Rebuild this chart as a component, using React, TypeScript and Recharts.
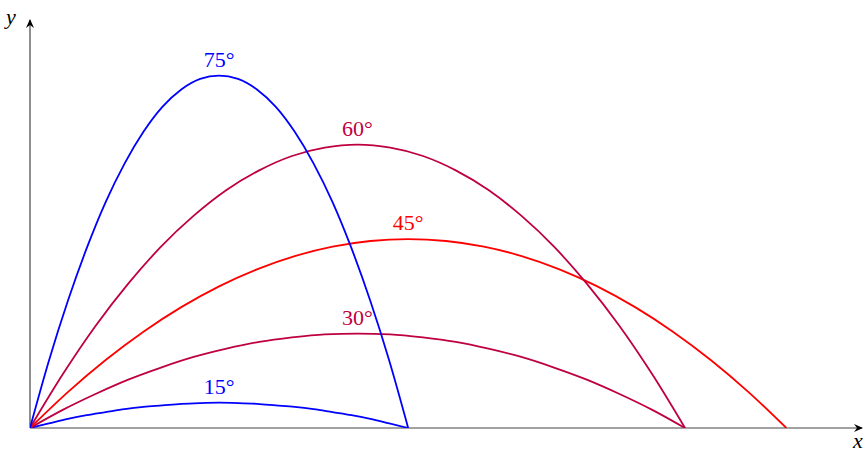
import React from 'react';
import { LineChart, Line, XAxis, YAxis, ReferenceDot, ReferenceLine } from 'recharts';

const x15 = [0, 0.25, 0.5, 0.75, 1, 1.25, 1.5, 1.75, 2, 2.25, 2.5, 2.75, 3, 3.25, 3.5, 3.75, 4, 4.25, 4.5, 4.75, 5];
const y15 = [0, 0.06, 0.12, 0.17, 0.21, 0.25, 0.28, 0.3, 0.32, 0.33, 0.335, 0.33, 0.32, 0.3, 0.28, 0.25, 0.21, 0.17, 0.12, 0.06, 0];
const x75 = [0, 0.25, 0.5, 0.75, 1, 1.25, 1.5, 1.75, 2, 2.25, 2.5, 2.75, 3, 3.25, 3.5, 3.75, 4, 4.25, 4.5, 4.75, 5];
const y75 = [0, 0.89, 1.68, 2.38, 2.99, 3.5, 3.92, 4.25, 4.48, 4.62, 4.665, 4.62, 4.48, 4.25, 3.92, 3.5, 2.99, 2.38, 1.68, 0.89, 0];
const x30 = [0, 0.433, 0.866, 1.299, 1.732, 2.165, 2.598, 3.031, 3.464, 3.897, 4.33, 4.763, 5.196, 5.629, 6.062, 6.495, 6.928, 7.361, 7.794, 8.227, 8.66];
const y30 = [0, 0.24, 0.45, 0.64, 0.8, 0.94, 1.05, 1.14, 1.2, 1.24, 1.25, 1.24, 1.2, 1.14, 1.05, 0.94, 0.8, 0.64, 0.45, 0.24, 0];
const x60 = [0, 0.433, 0.866, 1.299, 1.732, 2.165, 2.598, 3.031, 3.464, 3.897, 4.33, 4.763, 5.196, 5.629, 6.062, 6.495, 6.928, 7.361, 7.794, 8.227, 8.66];
const y60 = [0, 0.71, 1.35, 1.91, 2.4, 2.81, 3.15, 3.41, 3.6, 3.71, 3.75, 3.71, 3.6, 3.41, 3.15, 2.81, 2.4, 1.91, 1.35, 0.71, 0];
const x45 = [0, 0.5, 1, 1.5, 2, 2.5, 3, 3.5, 4, 4.5, 5, 5.5, 6, 6.5, 7, 7.5, 8, 8.5, 9, 9.5, 10];
const y45 = [0, 0.475, 0.9, 1.275, 1.6, 1.875, 2.1, 2.275, 2.4, 2.475, 2.5, 2.475, 2.4, 2.275, 2.1, 1.875, 1.6, 1.275, 0.9, 0.475, 0];

const angleLabels = ['15°', '30°', '45°', '60°', '75°'];
const peakX = [2.5, 4.33, 5, 4.33, 2.5];
const peakY = [0.335, 1.25, 2.5, 3.75, 4.665];

const BLUE = '#0000FF';
const PURPLE = '#BF0040';
const RED = '#FF0000';
const colors = [BLUE, PURPLE, RED, PURPLE, BLUE];

const zip = (xs: number[], ys: number[]) => xs.map((x, i) => ({ x, y: ys[i] }));

const series = [
  { data: zip(x15, y15), color: BLUE },
  { data: zip(x30, y30), color: PURPLE },
  { data: zip(x45, y45), color: RED },
  { data: zip(x60, y60), color: PURPLE },
  { data: zip(x75, y75), color: BLUE },
];

const FONT = '"Liberation Serif", "DejaVu Serif", serif';
const X_MAX = 11;
const Y_MAX = 5.4;

export default function App() {
  return (
    <div style={{ position: 'absolute', left: 0, top: 0, width: 864, height: 453, background: '#fff' }}>
      <LineChart width={864} height={453} margin={{ top: 20, right: 2, bottom: 25, left: 30 }}>
        <XAxis dataKey="x" type="number" domain={[0, X_MAX]} allowDataOverflow hide />
        <YAxis dataKey="y" type="number" domain={[0, Y_MAX]} allowDataOverflow hide />
        <ReferenceLine y={0} stroke="#444" strokeWidth={1.2} ifOverflow="visible" />
        <ReferenceLine x={0} stroke="#444" strokeWidth={1.2} ifOverflow="visible" />
        {series.map((s, i) => (
          <Line
            key={i}
            data={s.data}
            dataKey="y"
            type="monotone"
            stroke={s.color}
            strokeWidth={1.8}
            dot={false}
            activeDot={false}
            isAnimationActive={false}
          />
        ))}
        {angleLabels.map((lab, i) => (
          <ReferenceDot
            key={lab}
            x={peakX[i]}
            y={peakY[i]}
            r={0}
            ifOverflow="visible"
            shape={(p: any) => (
              <text x={p.cx} y={p.cy - 9} textAnchor="middle" fill={colors[i]} fontSize={22} fontFamily={FONT}>
                {lab}
              </text>
            )}
          />
        ))}
        <ReferenceDot
          x={X_MAX}
          y={0}
          r={0}
          ifOverflow="visible"
          shape={(p: any) => (
            <g>
              <path d={`M${p.cx + 1},${p.cy} L${p.cx - 8},${p.cy - 4} L${p.cx - 5},${p.cy} L${p.cx - 8},${p.cy + 4} Z`} fill="#000" />
              <text x={p.cx - 9} y={p.cy + 20} fill="#000" fontSize={22} fontStyle="italic" fontFamily={FONT}>x</text>
            </g>
          )}
        />
        <ReferenceDot
          x={0}
          y={Y_MAX}
          r={0}
          ifOverflow="visible"
          shape={(p: any) => (
            <g>
              <path d={`M${p.cx},${p.cy - 1} L${p.cx - 4},${p.cy + 8} L${p.cx},${p.cy + 5} L${p.cx + 4},${p.cy + 8} Z`} fill="#000" />
              <text x={p.cx - 24} y={p.cy + 4} fill="#000" fontSize={22} fontStyle="italic" fontFamily={FONT}>y</text>
            </g>
          )}
        />
      </LineChart>
    </div>
  );
}
